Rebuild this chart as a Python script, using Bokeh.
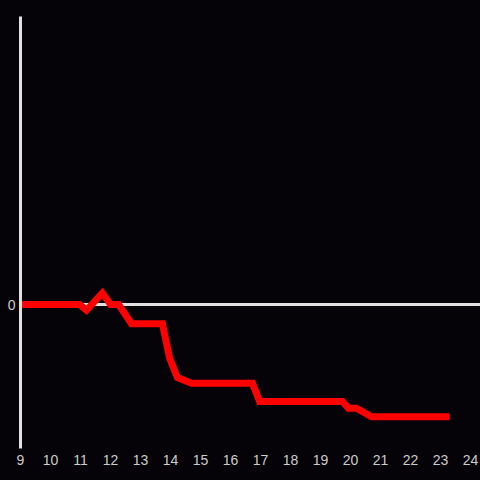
from bokeh.plotting import figure
from bokeh.models import Range1d, FixedTicker
from bokeh.embed import file_html
from bokeh.resources import INLINE

# data
hours = [9, 10.97, 11.2, 11.73, 12.0, 12.27, 12.7, 13.73, 13.97, 14.23, 14.7,
         16.73, 16.97, 19.73, 19.93, 20.2, 20.7, 23.3]
values = [0, 0, -0.3, 0.6, 0, 0, -1.0, -1.0, -2.8, -3.8, -4.1,
          -4.1, -5.05, -5.05, -5.4, -5.4, -5.85, -5.85]
x_ticks = list(range(9, 25))
y_ticks = [0]

BG = "#050308"
AXIS = "#e0e0e0"
LABEL = "#cccccc"

p = figure(width=480, height=480, output_backend="svg", toolbar_location=None,
           x_range=Range1d(9, 24.33), y_range=Range1d(-7.5, 15),
           min_border_left=20, min_border_right=0, min_border_top=16,
           min_border_bottom=32)
p.background_fill_color = None
p.border_fill_color = BG
p.outline_line_color = None
p.border_line_color = None

p.xgrid.visible = False
p.ygrid.ticker = FixedTicker(ticks=y_ticks)
p.ygrid.grid_line_color = AXIS
p.ygrid.grid_line_width = 3

p.xaxis.ticker = FixedTicker(ticks=x_ticks)
p.xaxis.axis_line_color = None
p.xaxis.major_tick_line_color = None
p.xaxis.minor_tick_line_color = None
p.xaxis.major_tick_out = 0
p.xaxis.major_tick_in = 0
p.xaxis.major_label_standoff = 6
p.xaxis.major_label_text_color = LABEL
p.xaxis.major_label_text_font = "Liberation Sans"
p.xaxis.major_label_text_font_size = "14px"

p.yaxis.ticker = FixedTicker(ticks=y_ticks)
p.yaxis.axis_line_color = AXIS
p.yaxis.axis_line_width = 3
p.yaxis.major_tick_line_color = None
p.yaxis.minor_tick_line_color = None
p.yaxis.major_tick_out = 0
p.yaxis.major_tick_in = 0
p.yaxis.major_label_standoff = 5
p.yaxis.major_label_text_color = LABEL
p.yaxis.major_label_text_font = "Liberation Sans"
p.yaxis.major_label_text_font_size = "14px"

p.line(hours, values, line_color="#ff0000", line_width=7, line_join="miter")

style = "<style>html,body{margin:0;padding:0;background:#050308;}</style>"
html = file_html(p, INLINE).replace("</head>", style + "</head>", 1)
open("out.html", "w").write(html)
